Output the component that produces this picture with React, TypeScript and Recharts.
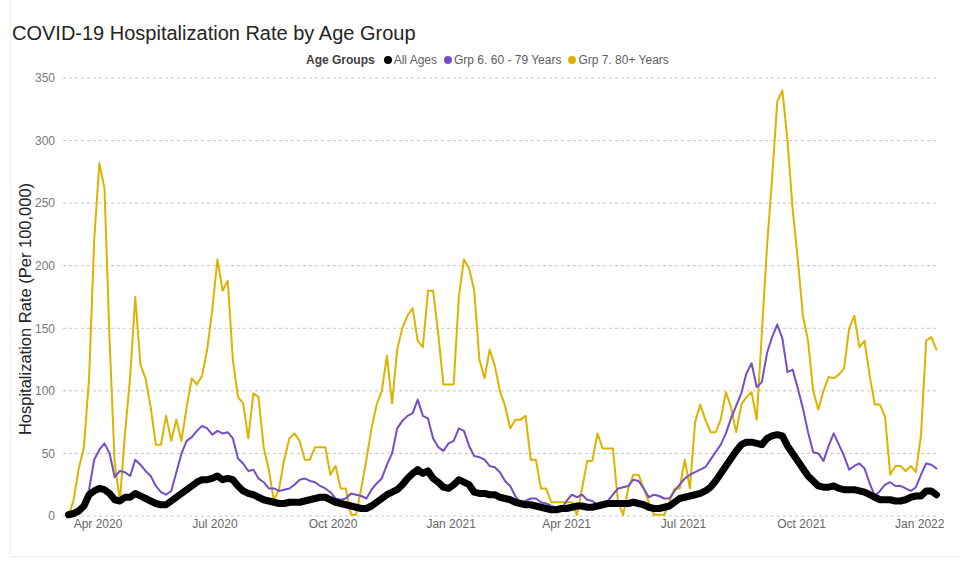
import { LineChart, Line, XAxis, YAxis, CartesianGrid } from 'recharts';

// one reading every 4 days, starting 9 Mar 2020
const START = Date.UTC(2020, 2, 9);
const STEP_DAYS = 4;
const DAY = 86400000;

const ALL_AGES = [
  1, 2, 4, 8, 17, 20, 22, 21, 18, 13,
  12, 15, 15, 18, 16, 14, 12, 10, 9, 9,
  12, 15, 18, 21, 24, 27, 29, 29, 30, 32,
  29, 30, 29, 24, 20, 18, 17, 15, 13, 12,
  11, 10, 10, 11, 11, 11, 12, 13, 14, 15,
  15, 13, 11, 10, 9, 8, 7, 6, 6, 8,
  11, 14, 17, 19, 21, 25, 30, 34, 37, 34,
  36, 30, 27, 23, 22, 25, 29, 27, 25, 19,
  18, 18, 17, 17, 15, 14, 13, 11, 10, 9,
  9, 8, 7, 6, 5, 5, 6, 6, 7, 8,
  8, 7, 7, 8, 9, 10, 10, 10, 10, 10,
  11, 10, 9, 7, 6, 6, 7, 8, 11, 14,
  15, 16, 17, 18, 20, 23, 28, 34, 40, 46,
  52, 57, 59, 59, 58, 57, 62, 64, 65, 64,
  56, 50, 44, 38, 32, 28, 24, 23, 23, 24,
  22, 21, 21, 21, 20, 19, 17, 15, 13, 13,
  13, 12, 12, 13, 15, 16, 16, 20, 20, 17,
];

const GRP_6 = [
  0, 1, 4, 8, 21, 45, 53, 58, 50, 31,
  36, 35, 32, 45, 41, 36, 32, 24, 19, 17,
  20, 35, 50, 60, 63, 68, 72, 70, 65, 68,
  66, 67, 62, 46, 42, 36, 37, 30, 27, 22,
  22, 20, 21, 22, 25, 29, 30, 28, 27, 24,
  22, 19, 14, 13, 14, 18, 17, 16, 14, 21,
  26, 30, 41, 50, 70, 76, 80, 82, 93, 80,
  78, 62, 55, 52, 58, 60, 70, 68, 56, 48,
  47, 45, 40, 39, 35, 28, 24, 16, 10, 12,
  14, 14, 11, 10, 8, 7, 6, 12, 17, 15,
  17, 13, 12, 9, 9, 12, 17, 22, 23, 24,
  29, 28, 22, 15, 17, 16, 14, 14, 20, 25,
  30, 33, 35, 37, 39, 45, 51, 57, 66, 78,
  88, 98, 114, 122, 103, 107, 130, 143, 153, 142,
  115, 117, 102, 86, 67, 51, 50, 44, 56, 66,
  57, 48, 37, 40, 42, 38, 26, 16, 20, 25,
  27, 24, 24, 22, 20, 23, 33, 42, 41, 38,
];

const GRP_7 = [
  0, 13, 38, 55, 110, 220, 282, 262, 140, 42,
  12, 66, 111, 175, 121, 110, 87, 57, 57, 80,
  60, 77, 60, 87, 110, 105, 112, 133, 165, 205,
  180, 188, 125, 95, 90, 62, 98, 95, 55, 37,
  12, 22, 45, 62, 66, 60, 45, 45, 55, 55,
  55, 33, 40, 22, 22, 1, 1, 22, 45, 70,
  89, 100, 128, 90, 133, 150, 160, 166, 140, 135,
  180, 180, 145, 105, 105, 105, 175, 205, 198, 180,
  125, 110, 133, 120, 100, 88, 70, 77, 77, 80,
  45, 45, 22, 22, 11, 11, 11, 11, 11, 1,
  22, 44, 44, 66, 54, 54, 54, 11, 1, 22,
  33, 33, 22, 11, 1, 1, 1, 11, 22, 22,
  45, 22, 75, 89, 77, 67, 67, 77, 99, 87,
  67, 89, 95, 99, 77, 146, 215, 270, 331, 340,
  300, 245, 205, 160, 140, 100, 85, 100, 111, 110,
  113, 118, 150, 160, 135, 140, 112, 89, 89, 79,
  33, 40, 40, 36, 40, 35, 65, 140, 143, 133,
];

const X_TICKS = [
  Date.UTC(2020, 3, 1),
  Date.UTC(2020, 6, 1),
  Date.UTC(2020, 9, 1),
  Date.UTC(2021, 0, 1),
  Date.UTC(2021, 3, 1),
  Date.UTC(2021, 6, 1),
  Date.UTC(2021, 9, 1),
  Date.UTC(2022, 0, 1),
];
const Y_TICKS = [0, 50, 100, 150, 200, 250, 300, 350];
const MONTHS = ['Jan', 'Feb', 'Mar', 'Apr', 'May', 'Jun', 'Jul', 'Aug', 'Sep', 'Oct', 'Nov', 'Dec'];

const SERIES = [
  { key: 'g7', name: 'Grp 7. 80+ Years', color: '#DDB300', width: 2 },
  { key: 'g6', name: 'Grp 6. 60 - 79 Years', color: '#744EC2', width: 2 },
  { key: 'all', name: 'All Ages', color: '#000000', width: 7 },
];
const LEGEND_ORDER = ['all', 'g6', 'g7'];

const FONT = '"Liberation Sans", Arial, sans-serif';

const data = ALL_AGES.map((v, i) => ({
  t: START + i * STEP_DAYS * DAY,
  all: v,
  g6: GRP_6[i],
  g7: GRP_7[i],
}));

const fmtMonth = (t: number) => {
  const d = new Date(t);
  return `${MONTHS[d.getUTCMonth()]} ${d.getUTCFullYear()}`;
};

export default function App() {
  return (
    <div
      style={{
        position: 'absolute',
        left: 0,
        top: 0,
        width: 960,
        height: 573,
        background: '#fff',
        fontFamily: FONT,
      }}
    >
      <div
        style={{
          position: 'absolute',
          left: 10,
          top: 0,
          width: 950,
          height: 556,
          borderLeft: '1px solid #f0f0f0',
          borderBottom: '1px solid #ececec',
        }}
      />
      <div
        style={{
          position: 'absolute',
          left: 12,
          top: 23,
          fontSize: 20,
          lineHeight: '20px',
          color: '#252423',
          whiteSpace: 'nowrap',
        }}
      >
        COVID-19 Hospitalization Rate by Age Group
      </div>

      <div
        style={{
          position: 'absolute',
          left: 306,
          top: 53,
          display: 'flex',
          alignItems: 'center',
          fontSize: 12,
          lineHeight: '14px',
          color: '#605E5C',
          whiteSpace: 'nowrap',
        }}
      >
        <span style={{ fontWeight: 'bold', color: '#404040', marginRight: 9 }}>Age Groups</span>
        {LEGEND_ORDER.map((k) => {
          const s = SERIES.find((x) => x.key === k)!;
          return (
            <span key={k} style={{ display: 'flex', alignItems: 'center', marginRight: 7 }}>
              <span
                style={{
                  width: 8,
                  height: 8,
                  borderRadius: 4,
                  background: s.color,
                  marginRight: 2,
                  display: 'inline-block',
                }}
              />
              {s.name}
            </span>
          );
        })}
      </div>

      <div
        style={{
          position: 'absolute',
          left: 25,
          top: 309,
          transform: 'translate(-50%, -50%) rotate(-90deg)',
          fontSize: 16.5,
          color: '#252423',
          whiteSpace: 'nowrap',
        }}
      >
        Hospitalization Rate (Per 100,000)
      </div>

      <div style={{ position: 'absolute', left: 0, top: 0 }}>
        <LineChart
          width={960}
          height={573}
          data={data}
          margin={{ top: 78, right: 22, bottom: 27, left: 20 }}
        >
          <CartesianGrid vertical={false} stroke="#c6c6c6" strokeDasharray="3 3" />
          <XAxis
            dataKey="t"
            type="number"
            scale="time"
            domain={[Date.UTC(2020, 2, 4, 17), Date.UTC(2022, 0, 15, 5)]}
            ticks={X_TICKS}
            tickFormatter={fmtMonth}
            axisLine={false}
            tickLine={false}
            tickSize={0}
            tickMargin={3}
            height={30}
            tick={{ fill: '#666666', fontSize: 12, fontFamily: FONT }}
            interval={0}
          />
          <YAxis
            domain={[0, 350]}
            ticks={Y_TICKS}
            axisLine={false}
            tickLine={false}
            tickSize={0}
            tickMargin={8}
            width={43}
            tick={{ fill: '#777777', fontSize: 12, fontFamily: FONT }}
          />
          {SERIES.map((s) => (
            <Line
              key={s.key}
              dataKey={s.key}
              name={s.name}
              type="linear"
              stroke={s.color}
              strokeWidth={s.width}
              strokeLinejoin="round"
              strokeLinecap="round"
              dot={false}
              activeDot={false}
              isAnimationActive={false}
            />
          ))}
        </LineChart>
      </div>
    </div>
  );
}
